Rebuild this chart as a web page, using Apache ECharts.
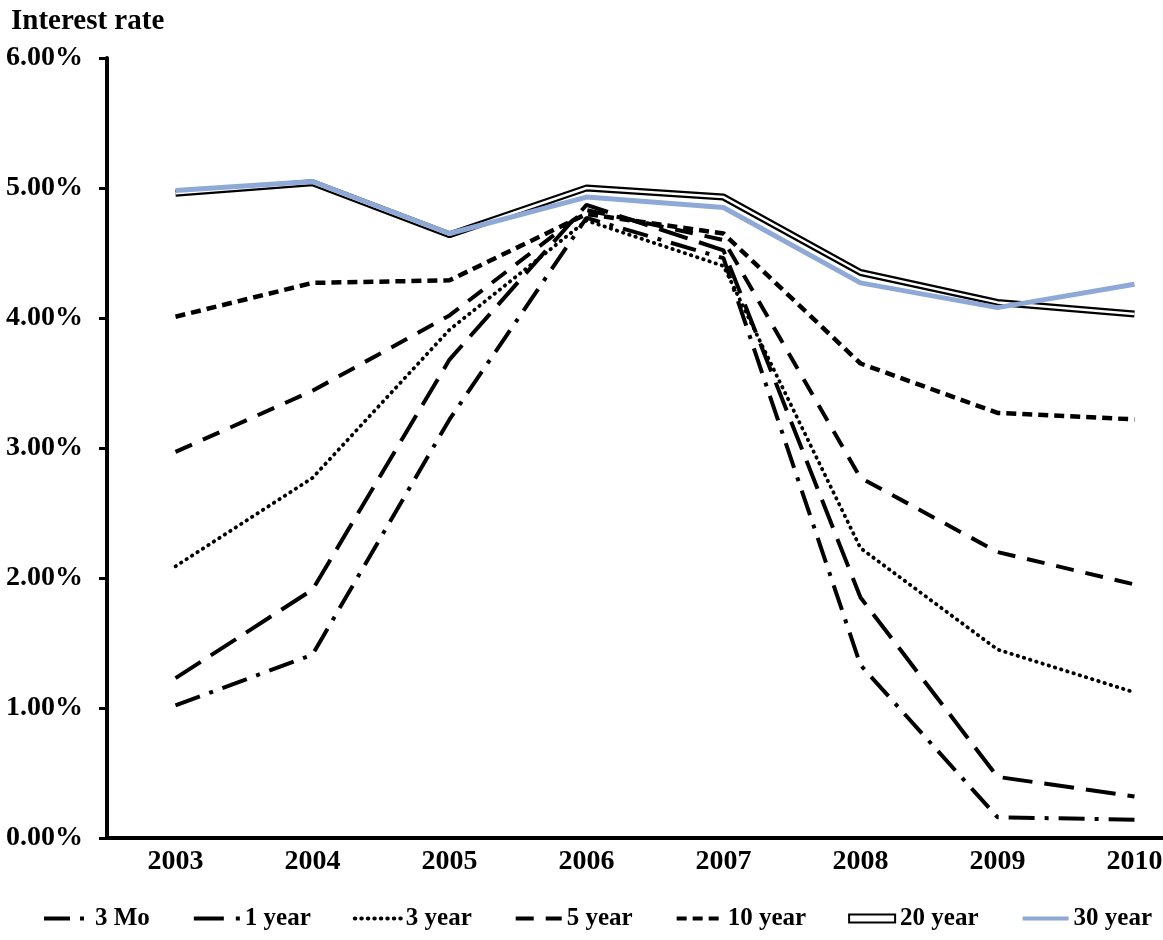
<!DOCTYPE html>
<html>
<head>
<meta charset="utf-8">
<script src="https://cdn.jsdelivr.net/npm/echarts@6/dist/echarts.min.js"></script>
<style>
  html, body { margin: 0; padding: 0; background: #fff; }
  #chart { width: 1163px; height: 940px; }
</style>
</head>
<body>
<div id="chart"></div>
<script>
// 年份 & 各期限收益率 (%)
const years = ['2003', '2004', '2005', '2006', '2007', '2008', '2009', '2010']
const mo3 = [1.02, 1.41, 3.22, 4.77, 4.46, 1.33, 0.16, 0.14]
const yr1 = [1.23, 1.91, 3.68, 4.87, 4.52, 1.85, 0.47, 0.32]
const yr3 = [2.09, 2.77, 3.91, 4.75, 4.40, 2.23, 1.45, 1.12]
const yr5 = [2.97, 3.44, 4.02, 4.83, 4.60, 2.77, 2.20, 1.95]
const yr10 = [4.01, 4.27, 4.29, 4.80, 4.65, 3.65, 3.27, 3.22]
const yr20 = [4.96, 5.04, 4.64, 5.00, 4.93, 4.35, 4.12, 4.03]
const yr30 = [4.98, 5.05, 4.65, 4.93, 4.85, 4.27, 4.08, 4.26]

const font = 'Liberation Serif'

function dashed(name, data, type, width, cap) {
  return {
    name, type: 'line', data, symbol: 'none', silent: true,
    itemStyle: {color: '#000'},
    lineStyle: {color: '#000', width, type, cap: cap || 'butt'}
  }
}

const chart = echarts.init(document.getElementById('chart'))
chart.setOption({
  animation: false,
  backgroundColor: '#fff',
  title: {
    text: 'Interest rate', left: 6, top: 2,
    textStyle: {fontFamily: font, fontWeight: 'bold', fontSize: 29, color: '#000'}
  },
  grid: {left: 107, top: 58, bottom: 102, width: 1096, outerBoundsMode: 'none', containLabel: false},
  xAxis: {
    type: 'category', data: years, boundaryGap: true,
    axisLine: {lineStyle: {color: '#000', width: 4}},
    axisTick: {length: 9, lineStyle: {width: 3, color: '#000'}},
    axisLabel: {margin: 10, color: '#000', fontFamily: font, fontWeight: 'bold', fontSize: 28}
  },
  yAxis: {
    type: 'value', min: 0, max: 6, interval: 1,
    axisLine: {show: true, lineStyle: {color: '#000', width: 4}},
    axisTick: {show: true, length: 8, lineStyle: {width: 3, color: '#000'}},
    splitLine: {show: false},
    axisLabel: {
      margin: 24, color: '#000', fontFamily: font, fontWeight: 'bold', fontSize: 28,
      formatter: v => v.toFixed(2) + '%'
    }
  },
  legend: {
    left: 42, top: 906, width: 1121, itemGap: 42, itemWidth: 46, itemHeight: 8,
    padding: 0,
    itemStyle: {color: 'rgba(0,0,0,0)', borderWidth: 0},
    lineStyle: {width: 4},
    textStyle: {fontFamily: font, fontWeight: 'bold', fontSize: 25, color: '#000'},
    data: [
      '3 Mo', '1 year', '3 year', '5 year', '10 year',
      {name: '20 year', icon: 'rect', itemStyle: {color: '#fff', borderColor: '#000', borderWidth: 2}},
      '30 year'
    ]
  },
  series: [
    dashed('3 Mo', mo3, [26, 10, 4, 10], 4),
    dashed('1 year', yr1, [30, 12], 4),
    dashed('3 year', yr3, [0.5, 6], 3.8, 'round'),
    dashed('5 year', yr5, [18, 12], 4),
    dashed('10 year', yr10, [10, 6], 4.5),
    {
      name: '20 year', type: 'line', data: yr20, symbol: 'none', silent: true,
      itemStyle: {color: '#000'},
      lineStyle: {color: '#000', width: 7}
    },
    {
      name: '20 year inner', type: 'line', data: yr20, symbol: 'none', silent: true,
      lineStyle: {color: '#fff', width: 2.5}
    },
    {
      name: '30 year', type: 'line', data: yr30, symbol: 'none', silent: true,
      itemStyle: {color: '#8ea9d6'},
      lineStyle: {color: '#8ea9d6', width: 5}
    }
  ]
})
</script>
</body>
</html>
